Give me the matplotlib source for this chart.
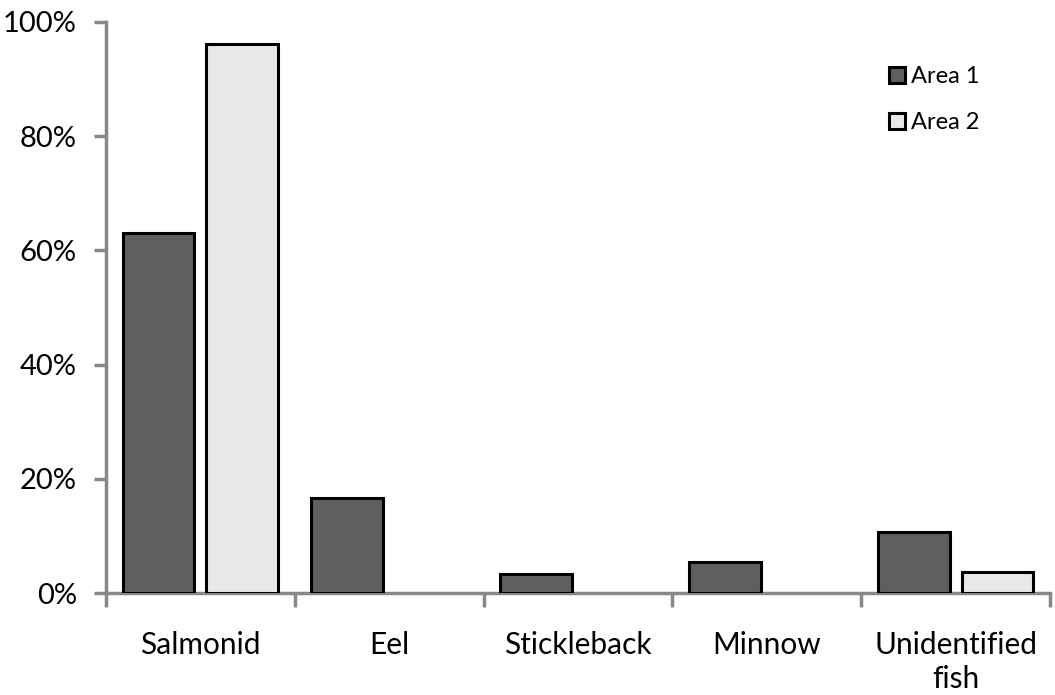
import numpy as np
import matplotlib.pyplot as plt
from matplotlib.ticker import PercentFormatter, FixedLocator, NullFormatter
from matplotlib.lines import Line2D

categories = ['Salmonid', 'Eel', 'Stickleback', 'Minnow', 'Unidentified\nfish']
area1 = [63.0, 16.7, 3.4, 5.5, 10.7]
area2 = [96.2, 0.0, 0.0, 0.0, 3.7]

plt.rcParams['font.family'] = ['Lato', 'DejaVu Sans']

fig = plt.figure(figsize=(10.55, 6.95), dpi=100)
ax = fig.add_axes([106 / 1055, 1 - 593 / 695, (1050 - 106) / 1055, (593 - 22) / 695])

x = np.arange(len(categories))
w = 0.38
axis_grey = '#888888'


def draw_series(offset, values, colour, name):
    bars = ax.bar(x + offset, values, w, color=colour, edgecolor='black', linewidth=2.2,
                  label=name, zorder=3)
    # empty categories should not leave an outline on the axis
    for b, v in zip(bars, values):
        if v == 0:
            b.set_visible(False)


draw_series(-0.222, area1, '#5f5f5f', 'Area 1')
draw_series(0.222, area2, '#e8e8e8', 'Area 2')

ax.set_xlim(-0.5, len(categories) - 0.5)
ax.set_ylim(0, 100)
ax.yaxis.set_major_formatter(PercentFormatter(decimals=0))
ax.set_yticks(np.arange(0, 101, 20))

# category boundaries get ticks, labels sit in the middle
ax.xaxis.set_major_locator(FixedLocator(np.arange(-0.5, len(categories), 1)))
ax.xaxis.set_major_formatter(NullFormatter())
ax.set_xticks(x, minor=True)
ax.set_xticklabels(categories, minor=True, linespacing=1.3)
ax.tick_params(axis='x', which='minor', length=0, pad=27, labelsize=21.5)
ax.tick_params(axis='x', which='major', length=10, width=2.5, color=axis_grey)
ax.tick_params(axis='y', length=9, width=2.5, color=axis_grey, pad=12, labelsize=21)

for side in ['top', 'right']:
    ax.spines[side].set_visible(False)
for side in ['left', 'bottom']:
    ax.spines[side].set_color(axis_grey)
    ax.spines[side].set_linewidth(2.5)

handles = [
    Line2D([], [], marker='s', linestyle='none', markersize=12, markerfacecolor='#5f5f5f',
           markeredgecolor='black', markeredgewidth=2.2),
    Line2D([], [], marker='s', linestyle='none', markersize=12, markerfacecolor='#e8e8e8',
           markeredgecolor='black', markeredgewidth=2.2),
]
ax.legend(handles, ['Area 1', 'Area 2'], loc='upper left', bbox_to_anchor=(0.807, 0.96),
          frameon=False, fontsize=17, handlelength=0.7, handletextpad=0.25, labelspacing=1.05)

fig.savefig('out.png', dpi=100)
